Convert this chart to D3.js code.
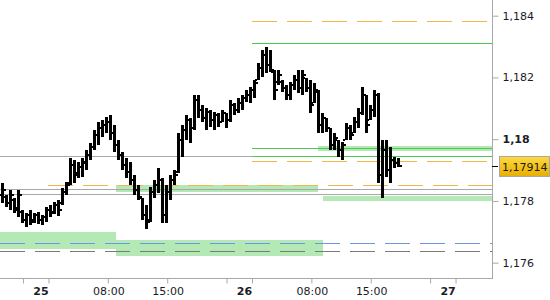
<!DOCTYPE html>
<html>
<head>
<meta charset="utf-8">
<script src="https://cdn.jsdelivr.net/npm/d3@7"></script>
<style>
  body { margin: 0; background: #fff; }
  svg { display: block; font-family: "DejaVu Sans", sans-serif; }
</style>
</head>
<body>
<div id="chart"></div>
<script>
var t = function(day, hour, min) { return new Date(2017, 6, day, hour, min || 0); };

// bars (OHLC)
var barStart = t(24, 19, 30);
var barMinutes = 28.3;
var highs = [1.17858,1.17819,1.17835,1.17809,1.17835,1.17771,1.17761,1.17771,1.17761,1.17764,
             1.17754,1.17780,1.17787,1.17797,1.17803,1.17842,1.17861,1.17939,1.17933,1.17926,
             1.17939,1.17965,1.17988,1.18030,1.18056,1.18062,1.18072,1.18078,1.18046,1.17997,
             1.17959,1.17939,1.17926,1.17884,1.17852,1.17809,1.17787,1.17845,1.17868,1.17907,
             1.17874,1.17852,1.17884,1.17900,1.18020,1.18046,1.18078,1.18069,1.18143,1.18143,
             1.18111,1.18101,1.18095,1.18088,1.18085,1.18095,1.18085,1.18127,1.18117,1.18134,
             1.18143,1.18159,1.18169,1.18192,1.18247,1.18289,1.18299,1.18289,1.18224,1.18224,
             1.18192,1.18176,1.18185,1.18208,1.18224,1.18224,1.18198,1.18192,1.18182,1.18159,
             1.18085,1.18069,1.18036,1.18020,1.17997,1.17991,1.18052,1.18046,1.18072,1.18101,
             1.18169,1.18143,1.18111,1.18159,1.18150,1.17997,1.17997,1.17975,1.17942,1.17939];
var lows  = [1.17793,1.17780,1.17771,1.17761,1.17748,1.17729,1.17716,1.17722,1.17729,1.17725,
             1.17722,1.17732,1.17748,1.17758,1.17751,1.17787,1.17819,1.17852,1.17858,1.17874,
             1.17877,1.17900,1.17933,1.17965,1.17981,1.18007,1.18020,1.17997,1.17959,1.17933,
             1.17900,1.17874,1.17852,1.17819,1.17803,1.17738,1.17709,1.17732,1.17809,1.17826,
             1.17729,1.17729,1.17803,1.17852,1.17891,1.17942,1.17997,1.17988,1.18030,1.18069,
             1.18056,1.18030,1.18040,1.18030,1.18040,1.18056,1.18036,1.18056,1.18078,1.18085,
             1.18095,1.18121,1.18117,1.18134,1.18192,1.18202,1.18214,1.18218,1.18127,1.18176,
             1.18153,1.18127,1.18127,1.18159,1.18150,1.18143,1.18153,1.18085,1.18117,1.18020,
             1.18020,1.18023,1.17965,1.17965,1.17942,1.17933,1.17997,1.17997,1.18020,1.18036,
             1.18078,1.18020,1.18062,1.18072,1.17858,1.17809,1.17877,1.17858,1.17907,1.17910];
var opens = [1.17819,1.17813,1.17793,1.17803,1.17777,1.17764,1.17738,1.17754,1.17738,1.17754,
             1.17738,1.17748,1.17771,1.17764,1.17787,1.17793,1.17829,1.17858,1.17916,1.17891,
             1.17910,1.17923,1.17949,1.17975,1.18014,1.18036,1.18046,1.18056,1.18020,1.17981,
             1.17949,1.17916,1.17894,1.17868,1.17835,1.17809,1.17754,1.17738,1.17829,1.17852,
             1.17868,1.17754,1.17829,1.17868,1.17894,1.17997,1.18030,1.18062,1.18036,1.18127,
             1.18095,1.18069,1.18088,1.18062,1.18078,1.18056,1.18085,1.18062,1.18111,1.18095,
             1.18117,1.18134,1.18143,1.18159,1.18192,1.18231,1.18273,1.18240,1.18218,1.18185,
             1.18185,1.18166,1.18143,1.18176,1.18192,1.18166,1.18198,1.18166,1.18117,1.18153,
             1.18046,1.18069,1.18036,1.17981,1.17997,1.17965,1.17997,1.18036,1.18020,1.18056,
             1.18085,1.18143,1.18062,1.18095,1.18143,1.17884,1.17965,1.17900,1.17933,1.17923];
var closes = [1.17835,1.17793,1.17819,1.17771,1.17819,1.17738,1.17754,1.17732,1.17754,1.17738,
              1.17748,1.17771,1.17761,1.17787,1.17771,1.17829,1.17852,1.17916,1.17884,1.17910,
              1.17926,1.17949,1.17975,1.18014,1.18036,1.18046,1.18056,1.18020,1.17981,1.17949,
              1.17916,1.17894,1.17868,1.17835,1.17813,1.17754,1.17732,1.17829,1.17852,1.17868,
              1.17754,1.17829,1.17868,1.17884,1.17997,1.18030,1.18062,1.18036,1.18127,1.18095,
              1.18069,1.18088,1.18062,1.18078,1.18056,1.18085,1.18062,1.18111,1.18095,1.18117,
              1.18134,1.18143,1.18159,1.18182,1.18231,1.18273,1.18240,1.18224,1.18159,1.18208,
              1.18166,1.18143,1.18176,1.18192,1.18166,1.18208,1.18166,1.18111,1.18159,1.18046,
              1.18069,1.18036,1.17981,1.18004,1.17965,1.17981,1.18036,1.18014,1.18056,1.18085,
              1.18143,1.18046,1.18095,1.18143,1.17884,1.17965,1.17900,1.17933,1.17923,1.17914];
var lastPrice = 1.17914;

// price levels: [price, start time]
var orangeLevels = [[1.18383, t(26, 1)], [1.17929, t(26, 1)], [1.17852, t(25, 1)]];
var greenLevels  = [[1.18311, t(26, 1)], [1.17971, t(26, 1)], [1.17945, t(26, 1)]];
var grayLevels   = [1.17947, 1.17840, 1.17823];
var blueDashLevel = 1.17663;
var grayDashLevel = 1.17638;
// zones: [from, to, low, high]
var zones = [
  [t(24, 12), t(25, 9), 1.17645, 1.17700],
  [t(25, 9), t(26, 9, 20), 1.17623, 1.17674],
  [t(25, 9), t(26, 8, 45), 1.17830, 1.17850],
  [t(26, 9, 20), t(28, 0), 1.17801, 1.17816],
  [t(26, 8, 45), t(28, 0), 1.17963, 1.17978]
];

var priceTicks = [1.176, 1.178, 1.18, 1.182, 1.184];
var timeTicks = [t(24, 22), t(25, 1), t(25, 8), t(25, 15), t(25, 22), t(26, 1), t(26, 8), t(26, 15), t(26, 22), t(27, 1)];
var labelTimes = [t(25, 0), t(25, 8), t(25, 15), t(26, 0), t(26, 8), t(26, 15), t(27, 0)];
var labelTexts = ["25", "08:00", "15:00", "26", "08:00", "15:00", "27"];

var width = 550, height = 300, plotRight = 492, plotBottom = 278;

var svg = d3.select("#chart").append("svg").attr("width", width).attr("height", height);

var x = d3.scaleTime().domain([t(24, 19, 17), t(27, 5, 18)]).range([0, plotRight]);
var y = d3.scaleLinear().domain([1.175504, 1.184508]).range([plotBottom, 0]);

var plot = svg.append("g");
var clip = svg.append("clipPath").attr("id", "clip").append("rect")
    .attr("width", plotRight).attr("height", plotBottom);
plot.attr("clip-path", "url(#clip)");

// zones
plot.selectAll("rect.zone").data(zones).enter().append("rect")
    .attr("class", "zone")
    .attr("x", function(d) { return Math.round(x(d[0])); })
    .attr("width", function(d) { return Math.round(x(d[1])) - Math.round(x(d[0])); })
    .attr("y", function(d) { return Math.round(y(d[3])); })
    .attr("height", function(d) { return Math.round(y(d[2])) - Math.round(y(d[3])); })
    .attr("fill", "#b4e8b4");

var hline = function(price, from, color, dash) {
  var yy = Math.round(y(price)) + 0.5;
  plot.append("line")
      .attr("x1", from === undefined ? 0 : Math.round(x(from))).attr("x2", plotRight)
      .attr("y1", yy).attr("y2", yy)
      .attr("stroke", color).attr("stroke-width", 1)
      .attr("stroke-dasharray", dash || null);
};

grayLevels.forEach(function(d) { hline(d, undefined, "#a8a8a8"); });
hline(blueDashLevel, undefined, "#6f96e6", "25,10");
hline(grayDashLevel, undefined, "#7a7a7a", "25,10");
orangeLevels.forEach(function(d) { hline(d[0], d[1], "#f0b848", "25,10"); });
greenLevels.forEach(function(d) { hline(d[0], d[1], "#4cc84c"); });

// bars
var bars = plot.selectAll("g.bar").data(highs).enter().append("g").attr("class", "bar")
    .attr("transform", function(d, i) {
      var tm = new Date(barStart.getTime() + i * barMinutes * 60000);
      return "translate(" + Math.round(x(tm)) + ",0)";
    });
bars.append("rect").attr("x", -1).attr("width", 3)
    .attr("y", function(d, i) { return Math.round(y(highs[i])); })
    .attr("height", function(d, i) { return Math.max(2, Math.round(y(lows[i])) - Math.round(y(highs[i]))); })
    .attr("fill", "#000");
bars.append("rect").attr("x", -3).attr("width", 2).attr("height", 2)
    .attr("y", function(d, i) { return Math.round(y(opens[i])) - 1; })
    .attr("fill", "#000");
bars.append("rect").attr("x", 2).attr("width", 2).attr("height", 2)
    .attr("y", function(d, i) { return Math.round(y(closes[i])) - 1; })
    .attr("fill", "#000");

// axes frame
svg.append("line").attr("x1", plotRight + 0.5).attr("x2", plotRight + 0.5)
    .attr("y1", 0).attr("y2", plotBottom + 1).attr("stroke", "#a8a8a8");
svg.append("line").attr("x1", 0).attr("x2", plotRight + 1)
    .attr("y1", plotBottom + 0.5).attr("y2", plotBottom + 0.5).attr("stroke", "#a8a8a8");

// y axis
var yAxis = svg.append("g").attr("transform", "translate(" + (plotRight + 0.5) + ",0)")
    .call(d3.axisRight(y).tickValues(priceTicks).tickSize(6).tickPadding(4)
      .tickFormat(function(d) { return String(+d.toFixed(3)).replace(".", ","); }));
yAxis.select(".domain").remove();
yAxis.selectAll(".tick line").attr("stroke", "#a8a8a8");
yAxis.selectAll(".tick text").attr("fill", "#1b1b28").attr("font-size", "11px")
    .attr("font-family", "DejaVu Sans, sans-serif")
    .attr("font-weight", function(d) { return d === 1.18 ? "bold" : null; });

// x axis ticks
var xAxis = svg.append("g").attr("transform", "translate(0," + (plotBottom + 0.5) + ")")
    .call(d3.axisBottom(x).tickValues(timeTicks).tickSize(5).tickFormat(""));
xAxis.select(".domain").remove();
xAxis.selectAll(".tick line").attr("stroke", "#a8a8a8");

svg.selectAll("text.xlabel").data(labelTimes).enter().append("text")
    .attr("class", "xlabel")
    .attr("x", function(d) { return x(d) + 1; })
    .attr("y", 295)
    .attr("text-anchor", "middle")
    .attr("font-size", "11px")
    .attr("fill", "#1b1b28")
    .attr("font-weight", function(d, i) { return labelTexts[i].length < 3 ? "bold" : null; })
    .text(function(d, i) { return labelTexts[i]; });

// last price marker
var ly = Math.round(y(lastPrice));
svg.append("line").attr("x1", plotRight).attr("x2", plotRight + 6)
    .attr("y1", ly + 0.5).attr("y2", ly + 0.5).attr("stroke", "#000");
var grad = svg.append("defs").append("linearGradient").attr("id", "gold")
    .attr("x1", 0).attr("x2", 0).attr("y1", 0).attr("y2", 1);
grad.append("stop").attr("offset", "0%").attr("stop-color", "#ffd940");
grad.append("stop").attr("offset", "100%").attr("stop-color", "#e8ae00");
svg.append("rect").attr("x", 499.5).attr("y", ly - 9.5).attr("width", 50).attr("height", 20)
    .attr("fill", "url(#gold)").attr("stroke", "#a8a8a8");
svg.append("text").attr("x", 502).attr("y", ly + 4.5)
    .attr("font-size", "11px").attr("fill", "#1b1b10")
    .text(String(lastPrice).replace(".", ","));
</script>
</body>
</html>
